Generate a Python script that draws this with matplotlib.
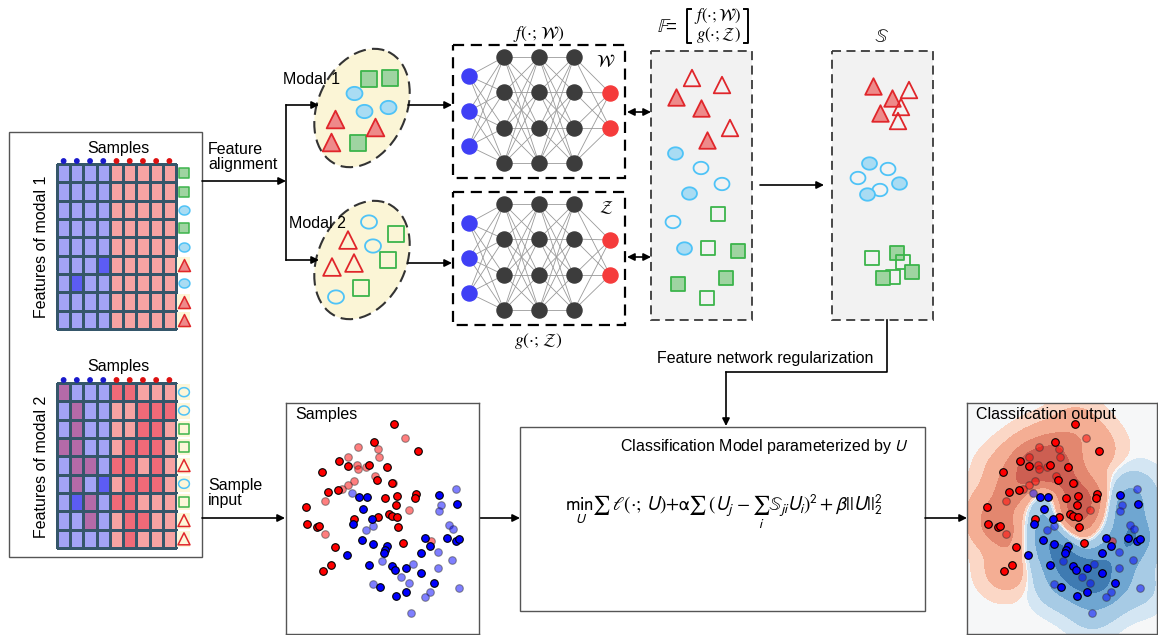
import numpy as np
import matplotlib
matplotlib.use("Agg")
import matplotlib.pyplot as plt
from matplotlib.patches import Rectangle, Ellipse
from matplotlib.collections import LineCollection
from matplotlib.colors import ListedColormap, BoundaryNorm
from matplotlib.path import Path

plt.rcParams["font.family"] = ["Liberation Sans", "DejaVu Sans"]

W, H = 1158, 635

# ---------------- data ----------------
# heatmap cell classes: 0 light blue, 1 dark blue, 2 light red, 3 dark red, 4 purple
heat1 = [
    [0, 0, 0, 0, 2, 2, 2, 2, 2],
    [0, 0, 0, 0, 2, 2, 2, 2, 2],
    [0, 0, 0, 0, 2, 2, 2, 2, 2],
    [0, 0, 0, 0, 2, 2, 2, 2, 2],
    [0, 0, 0, 0, 2, 2, 2, 2, 2],
    [0, 0, 0, 1, 2, 2, 2, 2, 2],
    [0, 1, 0, 0, 2, 2, 2, 2, 2],
    [0, 0, 0, 0, 2, 2, 2, 2, 2],
    [0, 0, 0, 0, 2, 2, 2, 2, 2],
]
heat2 = [
    [4, 0, 0, 0, 3, 3, 2, 2, 2],
    [0, 4, 0, 0, 2, 2, 3, 3, 3],
    [0, 4, 0, 0, 2, 2, 3, 3, 2],
    [4, 4, 0, 0, 2, 3, 3, 3, 2],
    [0, 4, 4, 0, 3, 3, 2, 3, 2],
    [0, 4, 0, 1, 2, 3, 3, 3, 2],
    [0, 1, 4, 0, 3, 3, 2, 2, 2],
    [0, 0, 4, 0, 2, 3, 3, 2, 2],
    [0, 0, 0, 0, 2, 3, 2, 2, 2],
]
heat1_marks = ["s", "s", "o", "s", "o", "^", "o", "^", "^"]
heat2_marks = ["o", "o", "s", "s", "^", "o", "s", "^", "^"]
col_class = ["b", "b", "b", "b", "r", "r", "r", "r", "r"]

# shapes inside the modal ellipses
mod1_x = [369, 390, 358, 354, 364, 388, 335, 375, 331]
mod1_y = [79, 78, 143, 93, 111, 107, 119, 127, 142]
mod1_k = ["s", "s", "s", "o", "o", "o", "^", "^", "^"]
mod2_x = [369, 373, 336, 396, 388, 361, 348, 332, 354]
mod2_y = [222, 246, 297, 234, 260, 288, 240, 267, 263]
mod2_k = ["o", "o", "o", "s", "s", "s", "^", "^", "^"]

# feature space F
F_x = [692, 722, 730, 676, 701, 707, 675, 701, 722, 689, 673, 684, 718, 708, 738, 678, 726, 707]
F_y = [78, 85, 128, 97, 108, 140, 153, 168, 184, 193, 222, 248, 214, 248, 251, 284, 278, 298]
F_k = ["^"] * 6 + ["o"] * 6 + ["s"] * 6
F_fill = [0, 0, 0, 1, 1, 1, 1, 0, 0, 1, 0, 1, 0, 0, 1, 1, 1, 0]

# similarity space S
S_x = [873, 892, 909, 901, 880, 898, 869, 888, 858, 899, 880, 867, 872, 897, 903, 912, 893, 883]
S_y = [86, 98, 90, 107, 113, 121, 163, 169, 178, 183, 190, 194, 258, 253, 262, 272, 277, 278]
S_k = ["^"] * 6 + ["o"] * 6 + ["s"] * 6
S_fill = [1, 1, 0, 0, 1, 0, 1, 0, 0, 1, 0, 1, 0, 1, 0, 1, 0, 1]

# sample points (local pixel coords inside the panel)
red_x = [108, 88, 132, 53, 62, 83, 101, 36, 91, 106, 42, 52, 99, 111, 130, 129, 110, 20,
         68, 92, 103, 106, 111, 21, 31, 33, 112, 49, 45, 37, 117]
red_y = [21, 39, 48, 58, 63, 62, 64, 69, 77, 80, 89, 87, 95, 93, 91, 95, 102, 104,
         116, 114, 111, 113, 114, 121, 124, 123, 124, 144, 162, 168, 140]
redf_x = [119, 72, 92, 62, 93, 71, 72, 80, 89, 107, 68, 62, 56, 39, 123, 39, 145]
redf_y = [35, 44, 46, 54, 54, 62, 66, 64, 73, 80, 78, 82, 86, 98, 107, 131, 138]
blue_x = [153, 171, 73, 81, 77, 67, 86, 76, 87, 101, 99, 98, 139, 144, 161, 170, 173, 135,
          61, 83, 106, 109, 120, 135, 148, 94, 110, 120]
blue_y = [92, 101, 94, 94, 106, 121, 116, 137, 141, 143, 147, 150, 135, 143, 135, 138, 136, 150,
          152, 162, 163, 167, 165, 170, 180, 184, 193, 189]
bluef_x = [170, 66, 155, 153, 163, 167, 80, 87, 152, 166, 96, 127, 115, 152, 123, 87, 144, 139, 173, 125]
bluef_y = [86, 90, 102, 108, 122, 126, 127, 123, 149, 157, 158, 161, 174, 165, 180, 181, 189, 194, 185, 210]

# ---------------- styles ----------------
EDGE = {"s": "#3cb44b", "o": "#4fc3f7", "^": "#e0262b"}
FILL = {"s": "#9fd4a1", "o": "#a9dcf3", "^": "#ee8a8a"}
t = np.linspace(0, 2 * np.pi, 41)
OVAL = Path(np.c_[1.2 * np.cos(t), np.sin(t)], closed=True)


def marker_of(k):
    return OVAL if k == "o" else k


def shapes(ax, xs, ys, kinds, fills, size, lw=1.3):
    for x, y, k, f in zip(xs, ys, kinds, fills):
        s = size * (1.35 if k == "^" else (1.1 if k == "o" else 1.0))
        ax.scatter([x], [y], marker=marker_of(k), s=s,
                   facecolor=FILL[k] if f else "none", edgecolor=EDGE[k],
                   linewidths=lw, zorder=6)


def arrow(ax, x0, y0, x1, y1, style="-|>"):
    ax.annotate("", xy=(x1, y1), xytext=(x0, y0),
                arrowprops=dict(arrowstyle=style, color="black", lw=1.2,
                                mutation_scale=11, shrinkA=0, shrinkB=0))


fig = plt.figure(figsize=(W / 100, H / 100), dpi=100)
ax = fig.add_axes([0, 0, 1, 1])
ax.set_xlim(0, W)
ax.set_ylim(H, 0)
ax.axis("off")

# ---------------- left panel: heatmaps ----------------
ax.add_patch(Rectangle((9, 132), 193, 425, fill=False, edgecolor="#555555", lw=1))
cmap = ListedColormap(["#a3a3f6", "#5c5cf4", "#f7a3a3", "#f06a78", "#b46aa8"])
norm = BoundaryNorm(np.arange(-0.5, 5.5, 1), cmap.N)
for data, y0, marks, filled in [(heat1, 164, heat1_marks, True), (heat2, 383, heat2_marks, False)]:
    xe = np.linspace(57, 176, 10)
    ye = np.linspace(y0, y0 + 165, 10)
    ax.pcolormesh(xe, ye, np.array(data), cmap=cmap, norm=norm,
                  edgecolors="#35566a", linewidth=0.9, zorder=2)
    xc = (xe[:-1] + xe[1:]) / 2
    yc = (ye[:-1] + ye[1:]) / 2
    ax.scatter(xc, [y0 - 3] * 9, s=10,
               c=["#1a1acc" if c == "b" else "#dd1111" for c in col_class], zorder=3)
    ax.text(118, y0 - 16, "Samples", ha="center", va="center", fontsize=11.5)
    for yy, k in zip(yc, marks):
        if k == "^" or not filled:
            ax.add_patch(Rectangle((177, yy - 8), 13, 16, facecolor="#fdf6d8",
                                   edgecolor="none", zorder=4))
        shapes(ax, [184], [yy], [k], [filled], 55, lw=1.1)
ax.text(42, 247, "Features of modal 1", rotation=90, ha="center", va="center", fontsize=11.5)
ax.text(42, 467, "Features of modal 2", rotation=90, ha="center", va="center", fontsize=11.5)

ax.text(208, 157, "Feature\nalignment", ha="left", va="center", fontsize=11.5, linespacing=1.05)
ax.text(208, 493, "Sample\ninput", ha="left", va="center", fontsize=11.5, linespacing=1.05)
arrow(ax, 202, 181, 286, 181)
ax.plot([286, 286], [105, 260], color="black", lw=1.2)
arrow(ax, 286, 105, 319, 105)
arrow(ax, 286, 260, 319, 260)
arrow(ax, 202, 518, 285, 518)

# ---------------- modal ellipses ----------------
for cy in (108, 260):
    ax.add_patch(Ellipse((362, cy), 88, 124, angle=25, facecolor="#fbf5d6",
                         edgecolor="#333333", lw=1.5, ls=(0, (6, 3)), zorder=1))
ax.text(283, 80, "Modal 1", ha="left", va="center", fontsize=11.5, zorder=7)
ax.text(289, 223, "Modal 2", ha="left", va="center", fontsize=11.5, zorder=7)
shapes(ax, mod1_x, mod1_y, mod1_k, [1] * 9, 120)
shapes(ax, mod2_x, mod2_y, mod2_k, [0] * 9, 120)
arrow(ax, 408, 105, 452, 105)
arrow(ax, 408, 263, 452, 263)

# ---------------- networks ----------------
layer_x = [469, 504, 539, 574, 610]
layer_y = [[76, 111, 146], [57, 92, 128, 163], [57, 92, 128, 163], [57, 92, 128, 163], [93, 128]]
node_col = ["#3f3ff5", "#3c3c3c", "#3c3c3c", "#3c3c3c", "#f53b3b"]
for dy, title, ty, sym in [(0, r"$f(\cdot;\,\mathcal{W})$", 34, r"$\mathcal{W}$"),
                           (147, r"$g(\cdot;\,\mathcal{Z})$", 341, r"$\mathcal{Z}$")]:
    ax.add_patch(Rectangle((453, 45 + dy), 172, 133, fill=False, edgecolor="black",
                           lw=1.6, ls=(0, (5, 3))))
    segs = []
    for i in range(4):
        for ya in layer_y[i]:
            for yb in layer_y[i + 1]:
                segs.append([(layer_x[i], ya + dy), (layer_x[i + 1], yb + dy)])
    ax.add_collection(LineCollection(segs, colors="#9a9a9a", linewidths=0.6, zorder=2))
    for lx, ly, c in zip(layer_x, layer_y, node_col):
        ax.scatter([lx] * len(ly), np.array(ly) + dy, s=118, color=c, zorder=3)
    ax.text(539, ty, title, ha="center", va="center", fontsize=12.5, math_fontfamily="stix")
    ax.text(606, 61 + dy, sym, ha="center", va="center", fontsize=12.5, math_fontfamily="stix")
arrow(ax, 627, 112, 651, 112, "<|-|>")
arrow(ax, 627, 257, 651, 257, "<|-|>")

# ---------------- F and S spaces ----------------
for bx in (651, 832):
    ax.add_patch(Rectangle((bx, 51), 101, 269, facecolor="#f2f2f2", edgecolor="#3a3a3a",
                           lw=1.3, ls=(0, (5, 3)), zorder=1))
shapes(ax, F_x, F_y, F_k, F_fill, 105)
shapes(ax, S_x, S_y, S_k, S_fill, 105)
ax.text(667, 27, r"$\mathbb{F}$=", ha="center", va="center", fontsize=13.5, math_fontfamily="stix")
ax.plot([691, 687, 687, 691], [9, 9, 43, 43], color="black", lw=1.4)
ax.plot([744, 748, 748, 744], [9, 9, 43, 43], color="black", lw=1.4)
ax.text(718, 16, r"$f(\cdot;\mathcal{W})$", ha="center", va="center", fontsize=12, math_fontfamily="stix")
ax.text(718, 35, r"$g(\cdot;\mathcal{Z})$", ha="center", va="center", fontsize=12, math_fontfamily="stix")
ax.text(882, 37, r"$\mathbb{S}$", ha="center", va="center", fontsize=14, math_fontfamily="stix")
arrow(ax, 760, 185, 824, 185)

# regularization link
ax.plot([887, 887, 726], [320, 372, 372], color="black", lw=1.2)
arrow(ax, 726, 372, 726, 426)
ax.text(765, 358, "Feature network regularization", ha="center", va="center", fontsize=11.5)

# ---------------- classification model ----------------
ax.add_patch(Rectangle((520, 427), 405, 184, fill=False, edgecolor="#555555", lw=1))
ax.text(909, 447, "Classification Model parameterized by $U$", ha="right", va="center",
        fontsize=11.5, math_fontfamily="stixsans")
ax.text(724, 512,
        r"$\min_{U}\sum\,\ell(\cdot;\,U)+\mathrm{\alpha}\sum\,(U_j-\sum_{i}\mathbb{S}_{ji}U_i)^2+\beta||U||_2^2$",
        ha="center", va="center", fontsize=13.8, math_fontfamily="stixsans")
arrow(ax, 480, 518, 520, 518)
arrow(ax, 925, 518, 967, 518)


# ---------------- scatter panels ----------------
def panel(left, width, title):
    a = fig.add_axes([left / W, 1 - 634 / H, width / W, 231 / H])
    a.set_xlim(0, width)
    a.set_ylim(231, 0)
    a.set_xticks([])
    a.set_yticks([])
    for sp in a.spines.values():
        sp.set_color("#555555")
        sp.set_linewidth(1)
    a.text(9, 12, title, ha="left", va="center", fontsize=11.5, zorder=10)
    return a


def points(a):
    a.scatter(redf_x, redf_y, s=30, color="#ff0000", alpha=0.5, edgecolor="#333333", lw=0.8, zorder=4)
    a.scatter(bluef_x, bluef_y, s=30, color="#0000ff", alpha=0.5, edgecolor="#333333", lw=0.8, zorder=4)
    a.scatter(red_x, red_y, s=30, color="#ff0000", edgecolor="black", lw=0.8, zorder=5)
    a.scatter(blue_x, blue_y, s=30, color="#0000ff", edgecolor="black", lw=0.8, zorder=5)


a1 = panel(286, 193, "Samples")
points(a1)

a2 = panel(967, 190, "Classifcation output")
gx, gy = np.meshgrid(np.linspace(0, 190, 240), np.linspace(0, 231, 280))
sig = 14.0
rx = np.r_[red_x, redf_x]
ry = np.r_[red_y, redf_y]
bx = np.r_[blue_x, bluef_x]
by = np.r_[blue_y, bluef_y]
R = sum(np.exp(-((gx - x) ** 2 + (gy - y) ** 2) / (2 * sig ** 2)) for x, y in zip(rx, ry))
B = sum(np.exp(-((gx - x) ** 2 + (gy - y) ** 2) / (2 * sig ** 2)) for x, y in zip(bx, by))
Fd = R - B
lev = [-100, -5, -2.5, -0.6, -0.08, 0.08, 0.6, 2.5, 5, 100]
cols = ["#3f7bb2", "#6fa6d1", "#a7cbe5", "#d4e6f3", "#f6f7f8",
        "#fbd7c6", "#f4ae94", "#e3876f", "#cd5f52"]
a2.set_facecolor("#f6f7f8")
a2.contourf(gx, gy, Fd, levels=lev, colors=cols, zorder=1)
points(a2)

fig.savefig("out.png", dpi=100)
